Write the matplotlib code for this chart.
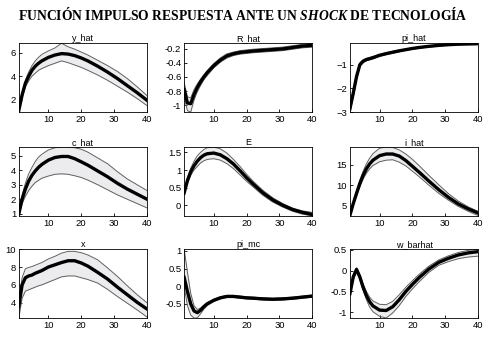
import matplotlib.pyplot as plt
import numpy as np

plt.rcParams['font.family'] = ['Liberation Sans', 'DejaVu Sans']
plt.rcParams['mathtext.fontset'] = 'custom'
plt.rcParams['mathtext.it'] = 'Liberation Serif:italic:bold'
plt.rcParams['mathtext.rm'] = 'Liberation Serif:bold'

periods = [1, 2, 3, 4, 5, 6, 7, 8, 10, 12, 14, 16, 18, 20, 22, 25, 28, 31, 34, 37, 40]

# media posterior y bandas HPD de cada variable
y_hat_mean = [1.1, 2.4, 3.4, 4.0, 4.5, 4.85, 5.1, 5.3, 5.6, 5.8, 5.92, 5.88, 5.75, 5.55, 5.3, 4.85, 4.35, 3.8, 3.2, 2.6, 1.95]
y_hat_hi = [1.25, 2.6, 3.65, 4.35, 4.9, 5.3, 5.6, 5.85, 6.15, 6.4, 6.8, 6.5, 6.3, 6.05, 5.8, 5.35, 4.9, 4.4, 3.8, 3.1, 2.35]
y_hat_lo = [0.95, 2.2, 3.1, 3.6, 4.0, 4.25, 4.5, 4.65, 4.9, 5.1, 5.3, 5.15, 4.95, 4.75, 4.5, 4.1, 3.65, 3.15, 2.65, 2.1, 1.5]

R_hat_mean = [-0.78, -0.97, -0.98, -0.85, -0.75, -0.67, -0.6, -0.54, -0.44, -0.36, -0.3, -0.27, -0.25, -0.24, -0.23, -0.22, -0.21, -0.2, -0.18, -0.16, -0.15]
R_hat_hi = [-0.68, -0.88, -0.9, -0.78, -0.7, -0.63, -0.57, -0.51, -0.41, -0.33, -0.27, -0.245, -0.225, -0.215, -0.205, -0.195, -0.185, -0.175, -0.155, -0.135, -0.12]
R_hat_lo = [-0.88, -1.08, -1.1, -0.93, -0.81, -0.72, -0.64, -0.58, -0.47, -0.39, -0.33, -0.295, -0.275, -0.265, -0.255, -0.245, -0.235, -0.225, -0.205, -0.185, -0.175]

pi_hat_mean = [-2.85, -2.2, -1.5, -1.0, -0.85, -0.78, -0.74, -0.7, -0.6, -0.53, -0.47, -0.41, -0.36, -0.31, -0.27, -0.22, -0.18, -0.15, -0.13, -0.12, -0.11]
pi_hat_hi = [-2.7, -2.05, -1.38, -0.92, -0.79, -0.73, -0.69, -0.65, -0.56, -0.49, -0.43, -0.38, -0.33, -0.28, -0.24, -0.2, -0.16, -0.13, -0.11, -0.1, -0.09]
pi_hat_lo = [-3.0, -2.35, -1.62, -1.08, -0.91, -0.83, -0.79, -0.75, -0.64, -0.57, -0.51, -0.45, -0.39, -0.34, -0.3, -0.25, -0.21, -0.17, -0.15, -0.14, -0.13]

c_hat_mean = [1.0, 2.0, 2.7, 3.25, 3.65, 3.95, 4.2, 4.4, 4.7, 4.88, 4.95, 4.95, 4.8, 4.58, 4.35, 3.95, 3.55, 3.1, 2.7, 2.35, 2.0]
c_hat_hi = [1.1, 2.3, 3.1, 3.75, 4.2, 4.6, 4.9, 5.1, 5.4, 5.55, 5.6, 5.6, 5.55, 5.45, 5.25, 4.85, 4.45, 3.9, 3.4, 3.0, 2.6]
c_hat_lo = [0.85, 1.7, 2.2, 2.6, 2.9, 3.15, 3.3, 3.45, 3.6, 3.72, 3.75, 3.72, 3.62, 3.5, 3.32, 3.0, 2.65, 2.3, 2.0, 1.7, 1.4]

E_mean = [0.35, 0.7, 0.95, 1.12, 1.25, 1.35, 1.42, 1.46, 1.48, 1.43, 1.32, 1.17, 0.98, 0.78, 0.6, 0.35, 0.15, 0.0, -0.12, -0.2, -0.26]
E_hi = [0.4, 0.78, 1.05, 1.25, 1.4, 1.5, 1.58, 1.63, 1.65, 1.6, 1.48, 1.3, 1.1, 0.88, 0.68, 0.42, 0.21, 0.05, -0.08, -0.16, -0.2]
E_lo = [0.3, 0.63, 0.85, 1.0, 1.1, 1.2, 1.26, 1.3, 1.32, 1.28, 1.18, 1.04, 0.86, 0.68, 0.52, 0.28, 0.09, -0.05, -0.17, -0.25, -0.3]

i_hat_mean = [2.7, 5.5, 8.0, 10.4, 12.4, 14.0, 15.2, 16.1, 17.2, 17.6, 17.6, 17.1, 16.0, 14.6, 13.2, 11.0, 8.9, 7.0, 5.4, 4.2, 3.2]
i_hat_hi = [2.9, 5.9, 8.6, 11.2, 13.4, 15.2, 16.6, 17.7, 19.0, 19.3, 19.2, 18.6, 17.6, 16.3, 14.8, 12.4, 10.1, 7.9, 6.1, 4.7, 3.6]
i_hat_lo = [2.5, 5.1, 7.4, 9.6, 11.5, 12.9, 14.0, 14.8, 15.7, 16.1, 16.2, 15.6, 14.7, 13.4, 12.1, 10.0, 8.0, 6.3, 4.8, 3.6, 2.6]

x_mean = [3.6, 6.0, 6.8, 7.0, 7.1, 7.3, 7.45, 7.6, 8.0, 8.25, 8.5, 8.7, 8.7, 8.45, 8.1, 7.4, 6.65, 5.75, 4.9, 4.05, 3.3]
x_hi = [4.2, 6.8, 7.8, 7.95, 8.05, 8.2, 8.35, 8.5, 8.9, 9.2, 9.55, 9.75, 9.75, 9.6, 9.35, 8.8, 7.9, 6.95, 5.9, 4.9, 4.0]
x_lo = [2.3, 4.5, 5.3, 5.45, 5.6, 5.75, 5.9, 6.0, 6.3, 6.6, 6.9, 7.0, 7.0, 6.8, 6.6, 6.2, 5.5, 4.7, 3.95, 3.2, 2.4]

pi_mc_mean = [0.25, -0.15, -0.5, -0.7, -0.75, -0.68, -0.58, -0.5, -0.4, -0.33, -0.29, -0.29, -0.31, -0.33, -0.34, -0.36, -0.37, -0.36, -0.34, -0.31, -0.28]
pi_mc_hi = [1.05, 0.4, -0.2, -0.55, -0.66, -0.62, -0.54, -0.47, -0.37, -0.3, -0.26, -0.26, -0.28, -0.3, -0.31, -0.33, -0.34, -0.33, -0.31, -0.28, -0.25]
pi_mc_lo = [0.0, -0.55, -0.82, -0.9, -0.9, -0.78, -0.65, -0.55, -0.43, -0.36, -0.32, -0.32, -0.34, -0.36, -0.37, -0.39, -0.4, -0.39, -0.37, -0.34, -0.31]

w_barhat_mean = [-0.55, -0.15, 0.03, -0.15, -0.4, -0.6, -0.75, -0.85, -0.95, -0.96, -0.87, -0.7, -0.5, -0.33, -0.17, 0.04, 0.2, 0.3, 0.38, 0.43, 0.46]
w_barhat_hi = [-0.5, -0.1, 0.07, -0.1, -0.32, -0.5, -0.64, -0.73, -0.81, -0.82, -0.74, -0.58, -0.4, -0.24, -0.09, 0.11, 0.26, 0.36, 0.44, 0.49, 0.52]
w_barhat_lo = [-0.6, -0.2, -0.02, -0.2, -0.47, -0.7, -0.88, -0.99, -1.1, -1.14, -1.02, -0.84, -0.62, -0.44, -0.27, -0.04, 0.13, 0.22, 0.29, 0.33, 0.35]

names = ['y_hat', 'R_hat', 'pi_hat', 'c_hat', 'E', 'i_hat', 'x', 'pi_mc', 'w_barhat']
means = [y_hat_mean, R_hat_mean, pi_hat_mean, c_hat_mean, E_mean, i_hat_mean, x_mean, pi_mc_mean, w_barhat_mean]
his = [y_hat_hi, R_hat_hi, pi_hat_hi, c_hat_hi, E_hi, i_hat_hi, x_hi, pi_mc_hi, w_barhat_hi]
los = [y_hat_lo, R_hat_lo, pi_hat_lo, c_hat_lo, E_lo, i_hat_lo, x_lo, pi_mc_lo, w_barhat_lo]

fig = plt.figure(figsize=(4.95, 3.46), dpi=100)
fig.text(0.49, 0.957, r'FUNCIÓN IMPULSO RESPUESTA ANTE UN $\mathit{SHOCK}$ DE TECNOLOGÍA',
         ha='center', va='center', family='Liberation Serif', weight='bold', fontsize=9.8)

lefts = [0.038, 0.372, 0.707]
bottoms = [0.676, 0.376, 0.081]
w, h = 0.259, 0.199

for k, name in enumerate(names):
    r, c = divmod(k, 3)
    ax = fig.add_axes([lefts[c], bottoms[r], w, h])
    m = np.array(means[k]); hi = np.array(his[k]); lo = np.array(los[k])
    ax.fill_between(periods, lo, hi, color='#ececef', lw=0)
    ax.plot(periods, hi, color='#606060', lw=0.7)
    ax.plot(periods, lo, color='#606060', lw=0.7)
    ax.plot(periods, m, color='black', lw=2.4)
    ax.set_xlim(1, 40)
    ax.set_ylim(lo.min(), hi.max())
    ax.set_xticks([10, 20, 30, 40])
    ax.tick_params(direction='in', length=2, labelsize=6.8, pad=2, width=0.6)
    ax.set_title(name, fontsize=6.5, pad=1.5)
    for s in ax.spines.values():
        s.set_linewidth(0.6)

ax_list = fig.axes
ax_list[0].set_yticks([2, 4, 6])
ax_list[1].set_yticks([-1, -0.8, -0.6, -0.4, -0.2])
ax_list[1].set_yticklabels(['-1', '-0.8', '-0.6', '-0.4', '-0.2'])
ax_list[2].set_yticks([-3, -2, -1])
ax_list[3].set_yticks([1, 2, 3, 4, 5])
ax_list[4].set_yticks([0, 0.5, 1, 1.5])
ax_list[4].set_yticklabels(['0', '0.5', '1', '1.5'])
ax_list[5].set_yticks([5, 10, 15])
ax_list[6].set_yticks([4, 6, 8, 10])
ax_list[7].set_yticks([-0.5, 0, 0.5, 1])
ax_list[7].set_yticklabels(['-0.5', '0', '0.5', '1'])
ax_list[8].set_yticks([-1, -0.5, 0, 0.5])
ax_list[8].set_yticklabels(['-1', '-0.5', '0', '0.5'])

fig.savefig('out.png', dpi=100)
